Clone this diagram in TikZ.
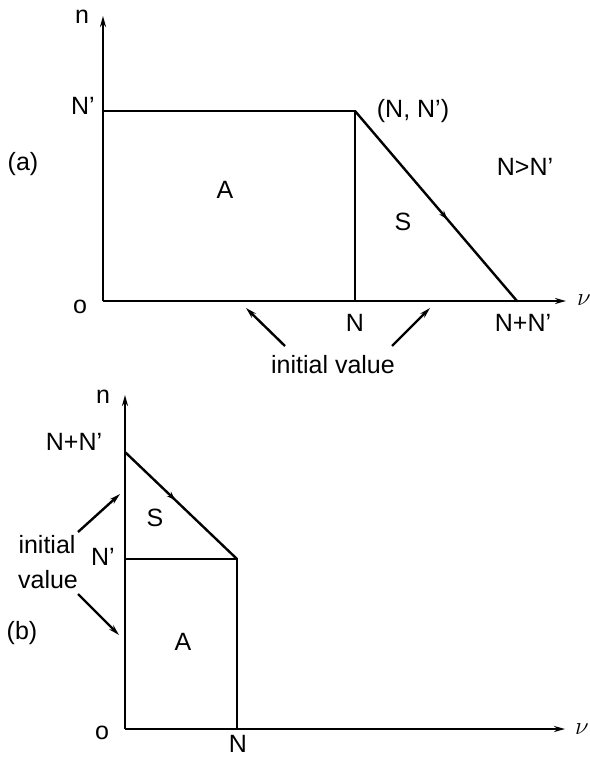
\documentclass[tikz,border=0pt]{standalone}
\usepackage{fontspec}
\setmainfont{Liberation Sans}
\usetikzlibrary{arrows.meta,decorations.markings}
\begin{document}
\begin{tikzpicture}[x=1pt,y=-1pt,
  lbl/.style={inner sep=0pt,font=\fontsize{25}{27}\selectfont},
  ln/.style={line width=2.4pt},
  ax/.style={line width=2.2pt,-{Stealth[length=11pt,width=6pt]}},
  ptr/.style={line width=2.4pt,-{Stealth[length=11pt,width=6pt]}},
  midarrow/.style={postaction={decorate},decoration={markings,mark=at position #1 with {\arrow{Stealth[length=9pt,width=6pt]}}}}
]
\useasboundingbox (0,0) rectangle (589,757);

% ---------- panel (a) ----------
\coordinate (aO) at (103,301);
\coordinate (aYT) at (103,16);
\coordinate (aXT) at (566,301);
\coordinate (aNp) at (103,111);
\coordinate (aC) at (355,111);
\coordinate (aN) at (355,301);
\coordinate (aNN) at (517,301);

\draw[ax] (aO) -- (aYT);
\draw[ax] (aO) -- (aXT);
\draw[ln] (aNp) -- (aC) -- (aN);
\draw[ln,midarrow=0.57] (aC) -- (aNN);

\node[lbl] (an) at (82,17) {n};
\node[lbl] (aNpl) at (83,106) {N'};
\node[lbl] (ao) at (80,307) {o};
\node[lbl] (alab) at (23,164) {(a)};
\node[lbl] (aA) at (225,190) {A};
\node[lbl] (aS) at (403,222) {S};
\node[lbl] (aCl) at (413,111) {(N, N')};
\node[lbl] (acond) at (525,167) {N>N'};
\node[lbl] (aNl) at (355,323) {N};
\node[lbl] (aNNl) at (523,323) {N+N'};
\node[inner sep=0pt,font=\fontsize{27}{29}\selectfont] (anu) at (584,300) {$\nu$};
\node[lbl] (ainit) at (333,365) {initial value};

\coordinate (aL1) at (285,346);
\coordinate (aL2) at (246,308);
\coordinate (aR1) at (392,346);
\coordinate (aR2) at (430,308);
\draw[ptr] (aL1) -- (aL2);
\draw[ptr] (aR1) -- (aR2);

% ---------- panel (b) ----------
\coordinate (bO) at (125,729);
\coordinate (bYT) at (125,395);
\coordinate (bXT) at (565,729);
\coordinate (bNN) at (125,452);
\coordinate (bNp) at (125,559);
\coordinate (bC) at (237,559);
\coordinate (bN) at (237,729);

\draw[ax] (bO) -- (bYT);
\draw[ax] (bO) -- (bXT);
\draw[ln,midarrow=0.45] (bNN) -- (bC);
\draw[ln] (bNp) -- (bC) -- (bN);

\node[lbl] (bn) at (103,397) {n};
\node[lbl] (bNNl) at (74,442) {N+N'};
\node[lbl] (bNpl) at (103,557) {N'};
\node[lbl] (bS) at (155,518) {S};
\node[lbl] (bA) at (183,642) {A};
\node[lbl] (blab) at (22,633) {(b)};
\node[lbl] (bo) at (102,733) {o};
\node[lbl] (bNl) at (238,744) {N};
\node[inner sep=0pt,font=\fontsize{27}{29}\selectfont] (bnu) at (582,729) {$\nu$};
\node[lbl] (binit1) at (47,545) {initial};
\node[lbl] (binit2) at (48,580) {value};

\coordinate (bU1) at (78,532);
\coordinate (bU2) at (120,494);
\coordinate (bD1) at (78,594);
\coordinate (bD2) at (119,635);
\draw[ptr] (bU1) -- (bU2);
\draw[ptr] (bD1) -- (bD2);
\end{tikzpicture}
\end{document}
